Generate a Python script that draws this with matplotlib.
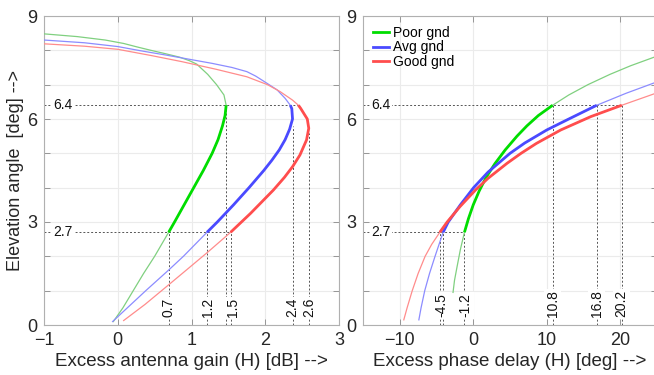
import numpy as np
import matplotlib.pyplot as plt
from matplotlib.lines import Line2D

plt.rcParams['font.family'] = ['Liberation Sans', 'DejaVu Sans']

# ---- left panel: excess antenna gain vs elevation ----
elev_gain_poor = [0.1, 0.5, 1.0, 1.5, 2.0, 2.7, 3.0, 3.5, 4.0, 4.5, 5.0, 5.4, 5.8, 6.1, 6.4,
                  6.7, 7.0, 7.3, 7.5, 7.6, 7.7, 7.8, 7.9, 8.0, 8.1, 8.2, 8.3, 8.4, 8.48]
gain_poor = [-0.06, 0.07, 0.21, 0.35, 0.50, 0.69, 0.77, 0.90, 1.03, 1.16, 1.28, 1.36, 1.42, 1.455, 1.47,
             1.44, 1.34, 1.22, 1.12, 1.07, 0.97, 0.84, 0.65, 0.45, 0.26, 0.08, -0.17, -0.55, -1.0]

elev_gain_avg = [0.1, 0.5, 1.0, 1.6, 2.0, 2.7, 3.0, 3.5, 4.0, 4.5, 4.8, 5.1, 5.4, 5.7, 6.0, 6.3, 6.4,
                 6.6, 6.85, 7.1, 7.25, 7.38, 7.5, 7.62, 7.74, 7.86, 7.98, 8.11, 8.22, 8.30]
gain_avg = [-0.07, 0.13, 0.38, 0.69, 0.89, 1.21, 1.35, 1.57, 1.78, 1.98, 2.09, 2.19, 2.27, 2.33, 2.37, 2.36, 2.34,
            2.27, 2.16, 1.98, 1.87, 1.75, 1.55, 1.28, 0.97, 0.66, 0.33, 0.0, -0.45, -1.0]

elev_gain_good = [0.13, 0.6, 1.17, 1.6, 2.14, 2.7, 3.25, 3.93, 4.3, 4.61, 4.95, 5.39, 5.73, 6.0, 6.31, 6.4,
                  6.55, 6.8, 7.0, 7.23, 7.45, 7.67, 7.85, 8.03, 8.12, 8.19]
gain_good = [0.08, 0.37, 0.69, 0.93, 1.23, 1.53, 1.80, 2.11, 2.26, 2.37, 2.47, 2.56, 2.59, 2.57, 2.48, 2.45,
             2.37, 2.20, 2.03, 1.75, 1.33, 0.87, 0.45, 0.0, -0.45, -1.0]

# ---- right panel: excess phase delay vs elevation ----
elev_phase_poor = [0.95, 1.3, 1.7, 2.2, 2.7, 3.1, 3.5, 3.9, 4.3, 4.7, 5.1, 5.5, 5.8, 6.1, 6.4,
                   6.7, 7.0, 7.3, 7.55, 7.8, 7.86]
phase_poor = [-2.75, -2.55, -2.2, -1.75, -1.2, -0.65, 0.0, 0.8, 1.75, 2.95, 4.35, 5.95, 7.3, 8.85, 10.8,
              13.0, 15.6, 18.6, 21.4, 24.6, 25.4]

elev_phase_avg = [0.15, 0.5, 1.0, 1.5, 2.0, 2.35, 2.7, 3.0, 3.5, 4.0, 4.45, 5.0, 5.3, 5.68, 6.0, 6.4,
                  6.75, 7.05, 7.1]
phase_avg = [-7.4, -7.1, -6.6, -5.95, -5.2, -4.65, -4.1, -3.4, -1.75, 0.05, 2.0, 5.0, 7.0, 10.0, 13.0, 16.8,
             20.8, 24.6, 25.3]

elev_phase_good = [0.15, 0.5, 1.0, 1.5, 2.0, 2.35, 2.7, 3.0, 3.45, 3.93, 4.27, 4.71, 5.0, 5.29, 5.68, 6.07,
                   6.4, 6.8]
phase_good = [-9.45, -9.0, -8.3, -7.5, -6.55, -5.65, -4.55, -3.55, -1.8, 0.3, 2.0, 4.6, 6.5, 8.6, 11.9, 16.0,
              20.2, 25.5]

elev_lo, elev_hi = 2.7, 6.4
names = ['Poor gnd', 'Avg gnd', 'Good gnd']
thick_cols = ['#00dd00', '#4a4aff', '#ff4d4d']
thin_cols = ['#80d080', '#8c8cff', '#ff8c8c']

# reference marks: (x, y_top, label, label_x)
gain_marks = [(0.69, 2.7, '0.7', 0.69), (1.21, 2.7, '1.2', 1.22), (1.47, 6.4, None, None),
              (1.53, 2.7, '1.5', 1.56), (2.37, 5.8, '2.4', 2.37), (2.59, 5.6, '2.6', 2.59)]
phase_marks = [(-4.55, 2.7, None, None), (-4.1, 2.7, '-4.5', -4.3), (-1.2, 2.7, '-1.2', -1.1),
               (10.8, 6.4, '10.8', 10.8), (16.8, 6.4, '16.8', 16.8), (20.2, 6.4, '20.2', 20.2)]

fig = plt.figure(figsize=(6.54, 3.75), dpi=100)
ax1 = fig.add_axes([44 / 654, 50 / 375, 295 / 654, 309 / 375])
ax2 = fig.add_axes([363 / 654, 50 / 375, 294 / 654, 309 / 375])


def draw_curves(ax, ys, xs):
    for y, x, c_thin, c_thick in zip(ys, xs, thin_cols, thick_cols):
        y = np.array(y)
        x = np.array(x)
        ax.plot(x, y, color=c_thin, lw=0.9, zorder=3)
        m = (y >= elev_lo - 1e-9) & (y <= elev_hi + 1e-9)
        ax.plot(x[m], y[m], color=c_thick, lw=2.0, zorder=4, solid_capstyle='butt')


def style(ax, xlim, xticks):
    ax.set_xlim(*xlim)
    ax.set_ylim(0, 9)
    ax.set_xticks(xticks)
    ax.set_yticks(range(10))
    ax.set_yticklabels(['0', '', '', '3', '', '', '6', '', '', '9'])
    ax.grid(True, color='#ebebeb', lw=0.8, zorder=0)
    ax.tick_params(direction='in', length=4, width=0.6, color='#888888', top=True, right=True,
                   labelsize=13, labelcolor='#262626', pad=5)
    for s in ax.spines.values():
        s.set_color('#b0b0b0')
        s.set_linewidth(0.8)


draw_curves(ax1, [elev_gain_poor, elev_gain_avg, elev_gain_good], [gain_poor, gain_avg, gain_good])
draw_curves(ax2, [elev_phase_poor, elev_phase_avg, elev_phase_good], [phase_poor, phase_avg, phase_good])

style(ax1, (-1, 3), range(-1, 4))
style(ax2, (-15, 25), [-10, 0, 10, 20])

dot = dict(color='#555555', lw=0.7, ls=(0, (2, 2)), zorder=2)
lbl = dict(fontsize=10, color='#111111', zorder=5,
           bbox=dict(boxstyle='square,pad=0.1', fc='white', ec='none'))

# left panel guides
ax1.plot([-1, 2.45], [6.4, 6.4], **dot)
ax1.plot([-1, 1.53], [2.7, 2.7], **dot)
ax1.text(-0.87, 6.4, '6.4', va='center', ha='left', **lbl)
ax1.text(-0.87, 2.7, '2.7', va='center', ha='left', **lbl)
for x, ytop, t, tx in gain_marks:
    ax1.plot([x, x], [0, ytop], **dot)
    if t:
        ax1.text(tx, 0.22, t, rotation=90, ha='center', va='bottom', **lbl)

# right panel guides
ax2.plot([-15, 20.2], [6.4, 6.4], **dot)
ax2.plot([-15, -1.2], [2.7, 2.7], **dot)
ax2.text(-13.9, 6.4, '6.4', va='center', ha='left', **lbl)
ax2.text(-13.9, 2.7, '2.7', va='center', ha='left', **lbl)
for x, ytop, t, tx in phase_marks:
    ax2.plot([x, x], [0, ytop], **dot)
    if t:
        ax2.text(tx, 0.22, t, rotation=90, ha='center', va='bottom', **lbl)

ax1.set_xlabel('Excess antenna gain (H) [dB] -->', fontsize=13.5, color='#262626', labelpad=3)
ax2.set_xlabel('Excess phase delay (H) [deg] -->', fontsize=13.5, color='#262626', labelpad=3)
ax1.set_ylabel('Elevation angle  [deg] -->', fontsize=13, color='#262626', labelpad=2)

handles = [Line2D([], [], color=c, lw=2) for c in thick_cols]
ax2.legend(handles, names, loc='upper left', frameon=False, fontsize=10,
           handlelength=1.2, handletextpad=0.25, labelspacing=0.05,
           borderaxespad=0.3, bbox_to_anchor=(0.0, 1.0))

fig.savefig('out.png', dpi=100)
